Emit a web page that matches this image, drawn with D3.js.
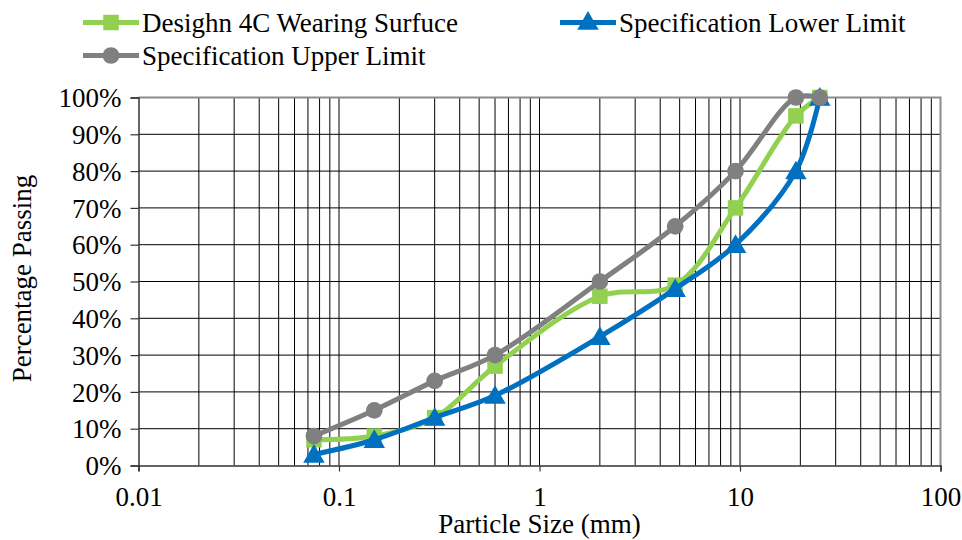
<!DOCTYPE html>
<html>
<head>
<meta charset="utf-8">
<script src="https://cdn.jsdelivr.net/npm/d3@7"></script>
<style>
  body { margin: 0; background: #fff; }
</style>
</head>
<body>
<div id="okvir"></div>
<script>
// sieve sizes (mm) and percentage passing
const sizes = [0.075, 0.15, 0.3, 0.6, 2, 4.75, 9.5, 19, 25]
const design = [7, 8, 13, 27, 46, 49, 70, 95, 100]
const lower = [3, 7, 13, 19, 35, 48, 60, 80, 100]
const upper = [8, 15, 23, 30, 50, 65, 80, 100, 100]
const seriesNames = ["Desighn 4C Wearing Surfuce", "Specification Lower Limit", "Specification Upper Limit"]
const xTicks = [0.01, 0.1, 1, 10, 100]
const yTicks = [0, 10, 20, 30, 40, 50, 60, 70, 80, 90, 100]

const font = "'Liberation Serif', 'Times New Roman', Times, 'DejaVu Serif', serif"
const sirina = 962, visina = 540
const granica = { left: 138.5, right: 940.5, top: 97.5, bottom: 465.5 }

const svg = d3.select("#okvir").append("svg")
  .attr("width", sirina).attr("height", visina)
  .style("font-family", font)

const x = d3.scaleLog().domain([0.01, 100]).range([granica.left, granica.right])
const y = d3.scaleLinear().domain([0, 100]).range([granica.bottom, granica.top])

// vertical grid (log minors)
const vMreza = []
for (let e = -2; e < 2; e++) {
  for (let m = 1; m <= 9; m++) vMreza.push(m * Math.pow(10, e))
}
vMreza.push(100)
svg.append("g").selectAll("line")
  .data(vMreza.filter(d => d > 0.01))
  .enter().append("line")
    .attr("x1", d => x(d)).attr("x2", d => x(d))
    .attr("y1", granica.top).attr("y2", granica.bottom)
    .attr("stroke", "#000").attr("stroke-width", 1)

svg.append("g").selectAll("line")
  .data(yTicks.filter(d => d > 0 && d < 100))
  .enter().append("line")
    .attr("x1", granica.left).attr("x2", granica.right)
    .attr("y1", d => y(d)).attr("y2", d => y(d))
    .attr("stroke", "#000").attr("stroke-width", 1)

// plot border top/right
svg.append("path")
  .attr("d", `M${granica.left},${granica.top}H${granica.right}V${granica.bottom}`)
  .attr("fill", "none").attr("stroke", "#8c8c8c").attr("stroke-width", 2)

// axes
const xOs = svg.append("g")
  .attr("transform", `translate(0,${granica.bottom})`)
  .call(d3.axisBottom(x).tickValues(xTicks).tickFormat(d => String(d)).tickSize(6).tickPadding(15))
const yOs = svg.append("g")
  .attr("transform", `translate(${granica.left},0)`)
  .call(d3.axisLeft(y).tickValues(yTicks).tickFormat(d => d + "%").tickSize(8).tickPadding(9))
;[xOs, yOs].forEach(os => {
  os.attr("font-family", null)
  os.select(".domain").attr("stroke", "#333").attr("stroke-width", 1.5)
  os.selectAll(".tick line").attr("stroke", "#333").attr("stroke-width", 1.2)
  os.selectAll("text").style("font-family", font).style("font-size", "27px").attr("fill", "#000")
})
yOs.selectAll("text").attr("dy", "0.34em")

svg.append("text")
  .attr("x", (granica.left + granica.right) / 2).attr("y", 533)
  .attr("text-anchor", "middle").style("font-size", "27px").style("font-family", font)
  .text("Particle Size (mm)")
svg.append("text")
  .attr("transform", `translate(31,${(granica.top + granica.bottom) / 2 - 3}) rotate(-90)`)
  .attr("text-anchor", "middle").style("font-size", "27px").style("font-family", font)
  .text("Percentage Passing")

// series
const boje = ["#92D050", "#0070C0", "#808080"]
const oblici = [d3.symbolSquare, d3.symbolTriangle, d3.symbolCircle]
const velicine = [240, 200, 220]
const serije = [design, lower, upper]

const linija = d3.line()
  .x(d => x(d[0])).y(d => y(d[1]))
  .curve(d3.curveCatmullRom.alpha(0.5))

serije.forEach((vals, i) => {
  const tocke = sizes.map((s, j) => [s, vals[j]])
  const g = svg.append("g")
  g.append("path")
    .attr("d", linija(tocke))
    .attr("fill", "none").attr("stroke", boje[i]).attr("stroke-width", 5)
  g.selectAll("path.m")
    .data(tocke)
    .enter().append("path")
      .attr("class", "m")
      .attr("transform", d => `translate(${x(d[0])},${y(d[1]) + (i === 1 ? 2 : 0)})`)
      .attr("d", d3.symbol().type(oblici[i]).size(velicine[i]))
      .attr("fill", boje[i])
})

// legend
const legenda = [
  { x: 83, y: 22.5 },
  { x: 560, y: 22.5 },
  { x: 83, y: 55.5 },
]
legenda.forEach((p, i) => {
  const g = svg.append("g").attr("transform", `translate(${p.x},${p.y})`)
  g.append("line").attr("x1", 0).attr("x2", 56).attr("stroke", boje[i]).attr("stroke-width", 5)
  g.append("path").attr("transform", `translate(28,${i === 1 ? 1 : 0})`)
    .attr("d", d3.symbol().type(oblici[i]).size(velicine[i])).attr("fill", boje[i])
  g.append("text").attr("x", 59).attr("dy", "0.35em")
    .style("font-size", "27px").style("font-family", font).text(seriesNames[i])
})
</script>
</body>
</html>
